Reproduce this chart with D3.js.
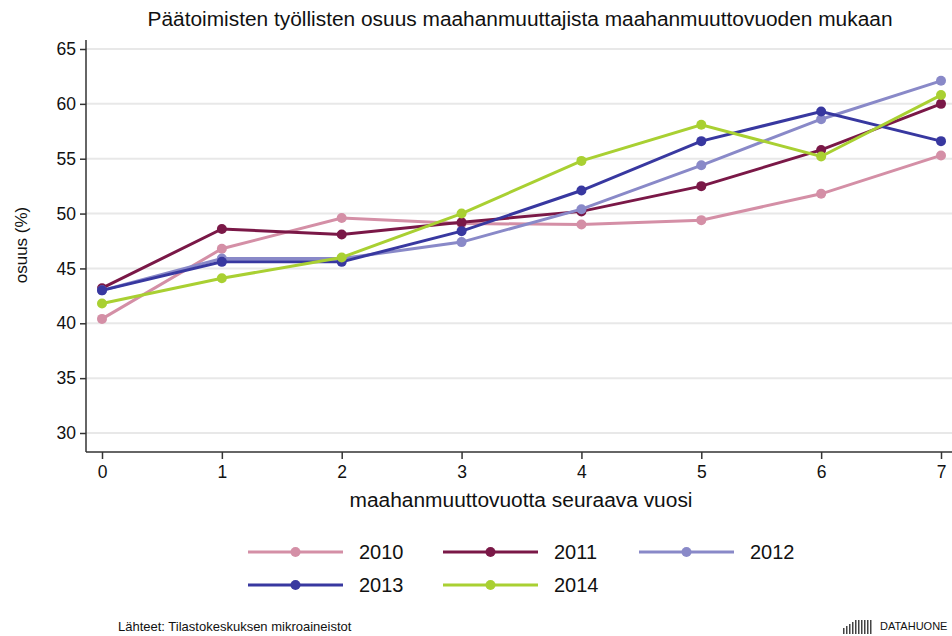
<!DOCTYPE html>
<html>
<head>
<meta charset="utf-8">
<script src="https://cdn.jsdelivr.net/npm/d3@7"></script>
<style>
  body { margin: 0; background: #fff; }
  text { font-family: "Liberation Sans", Arial, sans-serif; fill: #111; }
</style>
</head>
<body>
<div id="chart"></div>
<script>
// data
const years = [0, 1, 2, 3, 4, 5, 6, 7];
const seriesNames = ["2010", "2011", "2012", "2013", "2014"];
const s2010 = [40.4, 46.8, 49.6, 49.1, 49.0, 49.4, 51.8, 55.3];
const s2011 = [43.2, 48.6, 48.1, 49.2, 50.2, 52.5, 55.8, 60.0];
const s2012 = [43.0, 45.9, 45.9, 47.4, 50.4, 54.4, 58.6, 62.1];
const s2013 = [43.0, 45.6, 45.6, 48.4, 52.1, 56.6, 59.3, 56.6];
const s2014 = [41.8, 44.1, 46.0, 50.0, 54.8, 58.1, 55.2, 60.8];
const yTicks = [30, 35, 40, 45, 50, 55, 60, 65];
const colors = ["#d48fa6", "#7a1847", "#8989c8", "#3838a0", "#a9d032"];

const allSeries = [s2010, s2011, s2012, s2013, s2014];

const W = 952, H = 636;
const svg = d3.select("#chart").append("svg")
    .attr("width", W)
    .attr("height", H);

// plot area
const plot = {left: 86, right: 952, top: 40, bottom: 452};

const x = d3.scaleLinear()
    .domain([0, 7])
    .range([102, 941]);

const y = d3.scaleLinear()
    .domain([30, 65])
    .range([433, 49]);

// gridlines
svg.append("g")
  .selectAll("line")
  .data(yTicks)
  .enter().append("line")
    .attr("x1", plot.left)
    .attr("x2", plot.right)
    .attr("y1", d => y(d))
    .attr("y2", d => y(d))
    .attr("stroke", "#e8e8e8")
    .attr("stroke-width", 2);

// Y axis
const yAxis = svg.append("g")
    .attr("transform", "translate(" + plot.left + ",0)")
    .call(d3.axisLeft(y).tickValues(yTicks).tickSize(6).tickPadding(4));
yAxis.select(".domain").attr("d", "M0," + plot.top + "V" + plot.bottom);

// X axis
const xAxis = svg.append("g")
    .attr("transform", "translate(0," + plot.bottom + ")")
    .call(d3.axisBottom(x).tickValues(years).tickFormat(d3.format("d")).tickSize(7).tickPadding(7));
xAxis.select(".domain").attr("d", "M" + plot.left + ",0H" + plot.right);

svg.selectAll(".domain, .tick line")
    .attr("stroke", "#333")
    .attr("stroke-width", 1.5);
svg.selectAll(".tick text")
    .style("font-size", "17.5px")
    .style("font-family", "'Liberation Sans', Arial, sans-serif")
    .attr("fill", "#111");

// lines and points
const line = d3.line()
    .x((d, i) => x(years[i]))
    .y(d => y(d));

allSeries.forEach((vals, k) => {
    svg.append("path")
        .datum(vals)
        .attr("d", line)
        .attr("fill", "none")
        .attr("stroke", colors[k])
        .attr("stroke-width", 3);
    svg.append("g")
      .selectAll("circle")
      .data(vals)
      .enter().append("circle")
        .attr("cx", (d, i) => x(years[i]))
        .attr("cy", d => y(d))
        .attr("r", 5)
        .attr("fill", colors[k]);
});

// title and axis labels
svg.append("text")
    .attr("x", 520)
    .attr("y", 26)
    .attr("text-anchor", "middle")
    .attr("textLength", 745)
    .attr("lengthAdjust", "spacingAndGlyphs")
    .style("font-size", "20px")
    .text("Päätoimisten työllisten osuus maahanmuuttajista maahanmuuttovuoden mukaan");

svg.append("text")
    .attr("transform", "translate(27,245) rotate(-90)")
    .attr("text-anchor", "middle")
    .style("font-size", "17px")
    .text("osuus (%)");

svg.append("text")
    .attr("x", 521)
    .attr("y", 507)
    .attr("text-anchor", "middle")
    .attr("textLength", 343)
    .attr("lengthAdjust", "spacingAndGlyphs")
    .style("font-size", "20px")
    .text("maahanmuuttovuotta seuraava vuosi");

// legend
const legendX = [248, 443, 639];
const legendY = [552, 585];
seriesNames.forEach((name, k) => {
    const lx = legendX[k % 3], ly = legendY[Math.floor(k / 3)];
    const g = svg.append("g");
    g.append("line")
        .attr("x1", lx).attr("x2", lx + 95)
        .attr("y1", ly).attr("y2", ly)
        .attr("stroke", colors[k])
        .attr("stroke-width", 3);
    g.append("circle")
        .attr("cx", lx + 47.5).attr("cy", ly)
        .attr("r", 5)
        .attr("fill", colors[k]);
    g.append("text")
        .attr("x", lx + 111)
        .attr("y", ly + 7)
        .style("font-size", "20px")
        .text(name);
});

// footer
svg.append("text")
    .attr("x", 118)
    .attr("y", 631)
    .style("font-size", "13px")
    .text("Lähteet: Tilastokeskuksen mikroaineistot");

const barH = [6, 8, 10, 12, 14, 14, 14, 14, 14, 14];
svg.append("g")
  .selectAll("rect")
  .data(barH)
  .enter().append("rect")
    .attr("x", (d, i) => 843 + i * 3)
    .attr("y", d => 634 - d)
    .attr("width", 1.5)
    .attr("height", d => d)
    .attr("fill", "#444");

svg.append("text")
    .attr("x", 880)
    .attr("y", 630)
    .style("font-size", "11px")
    .attr("fill", "#333")
    .text("DATAHUONE");
</script>
</body>
</html>
